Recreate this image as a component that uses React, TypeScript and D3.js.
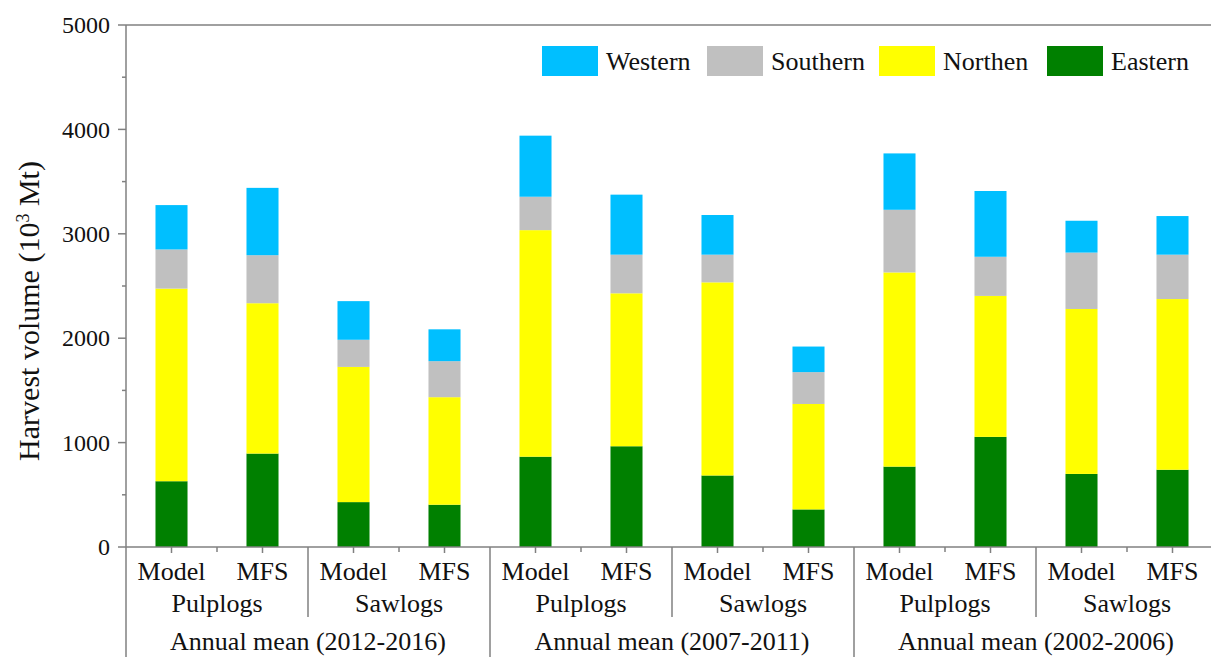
import React from "react";
import * as d3 from "d3";

const categories = ["Model", "MFS", "Model", "MFS", "Model", "MFS", "Model", "MFS", "Model", "MFS", "Model", "MFS"];
const products = ["Pulplogs", "Sawlogs", "Pulplogs", "Sawlogs", "Pulplogs", "Sawlogs"];
const periods = ["Annual mean (2012-2016)", "Annual mean (2007-2011)", "Annual mean (2002-2006)"];

const eastern = [630, 895, 430, 405, 865, 965, 685, 360, 770, 1055, 700, 740];
const northern = [1845, 1440, 1295, 1030, 2170, 1465, 1850, 1010, 1860, 1350, 1580, 1635];
const southern = [375, 460, 260, 345, 320, 370, 265, 305, 600, 375, 540, 425];
const western = [425, 645, 370, 305, 585, 575, 380, 245, 540, 630, 305, 370];

const seriesNames = ["Eastern", "Northen", "Southern", "Western"];
const seriesColors = ["#008000", "#FFFF00", "#C0C0C0", "#00BFFF"];
const legendOrder = ["Western", "Southern", "Northen", "Eastern"];

const yTicks = [0, 1000, 2000, 3000, 4000, 5000];
const yMinorTicks = [500, 1500, 2500, 3500, 4500];

const W = 1211;
const H = 657;
const FONT = "'Liberation Serif', 'Times New Roman', serif";

export default function App() {
  const left = 126;
  const right = 1218;
  const top = 25;
  const bottom = 547;
  const axisColor = "#808080";

  const idx = categories.map((_, i) => i);
  const x = d3.scaleBand<number>().domain(idx).range([left, right]).paddingInner(0.648).paddingOuter(0.324);
  const step = x.step();
  const y = d3.scaleLinear().domain([0, 5000]).range([bottom, top]);

  const rows = idx.map((i) => ({ i, Eastern: eastern[i], Northen: northern[i], Southern: southern[i], Western: western[i] }));
  const stacked = d3.stack<any>().keys(seriesNames)(rows);

  const boundary = (k: number) => left + step * k;

  return (
    <svg width={W} height={H} style={{ position: "absolute", left: 0, top: 0, background: "#fff" }} fontFamily={FONT}>
      <rect x={0} y={0} width={W} height={H} fill="#fff" />
      {stacked.map((s, si) => (
        <g key={s.key} fill={seriesColors[si]}>
          {s.map((d, j) => (
            <rect key={j} x={x(j)} width={x.bandwidth()} y={y(d[1])} height={y(d[0]) - y(d[1])} />
          ))}
        </g>
      ))}
      <line x1={left} x2={right} y1={top} y2={top} stroke={axisColor} strokeWidth={1.5} />
      <line x1={left} x2={right} y1={bottom} y2={bottom} stroke={axisColor} strokeWidth={1.5} />
      <line x1={left} x2={left} y1={top} y2={H} stroke={axisColor} strokeWidth={1.5} />
      {yTicks.map((t) => (
        <g key={t}>
          <line x1={left - 8} x2={left} y1={y(t)} y2={y(t)} stroke={axisColor} strokeWidth={1.5} />
          <text x={110} y={y(t)} dy="0.34em" textAnchor="end" fontSize={24} fill="#111">{t}</text>
        </g>
      ))}
      {yMinorTicks.map((t) => (
        <line key={t} x1={left - 4} x2={left} y1={y(t)} y2={y(t)} stroke={axisColor} strokeWidth={1.5} />
      ))}
      <text transform={`translate(39,311) rotate(-90)`} textAnchor="middle" fontSize={30} fill="#111">
        Harvest volume (10<tspan baselineShift="super" fontSize={18}>3</tspan> Mt)
      </text>
      {idx.map((i) => (
        <line key={"c" + i} x1={x(i)! + x.bandwidth() / 2} x2={x(i)! + x.bandwidth() / 2} y1={bottom} y2={bottom + 6} stroke={axisColor} strokeWidth={1.5} />
      ))}
      {d3.range(1, 12).filter((k) => k % 2 === 1).map((k) => (
        <line key={"b" + k} x1={boundary(k)} x2={boundary(k)} y1={bottom} y2={bottom + 5} stroke={axisColor} strokeWidth={1.5} />
      ))}
      {[2, 6, 10].map((k) => (
        <line key={"s" + k} x1={boundary(k)} x2={boundary(k)} y1={bottom} y2={617} stroke={axisColor} strokeWidth={1.5} />
      ))}
      {[4, 8, 12].map((k) => (
        <line key={"g" + k} x1={boundary(k)} x2={boundary(k)} y1={bottom} y2={H} stroke={axisColor} strokeWidth={1.5} />
      ))}
      {categories.map((c, i) => (
        <text key={"t" + i} x={x(i)! + x.bandwidth() / 2} y={580} textAnchor="middle" fontSize={26} fill="#111">{c}</text>
      ))}
      {products.map((p, i) => (
        <text key={"p" + i} x={boundary(2 * i + 1)} y={612} textAnchor="middle" fontSize={26} fill="#111">{p}</text>
      ))}
      {periods.map((p, i) => (
        <text key={"q" + i} x={boundary(4 * i + 2)} y={650} textAnchor="middle" fontSize={26} fill="#111">{p}</text>
      ))}
      {legendOrder.map((name, i) => {
        const lx = [542, 707, 879, 1047][i];
        const col = seriesColors[seriesNames.indexOf(name)];
        return (
          <g key={name}>
            <rect x={lx} y={46} width={56} height={30} fill={col} />
            <text x={lx + 64} y={70} fontSize={26} fill="#111">{name}</text>
          </g>
        );
      })}
    </svg>
  );
}
